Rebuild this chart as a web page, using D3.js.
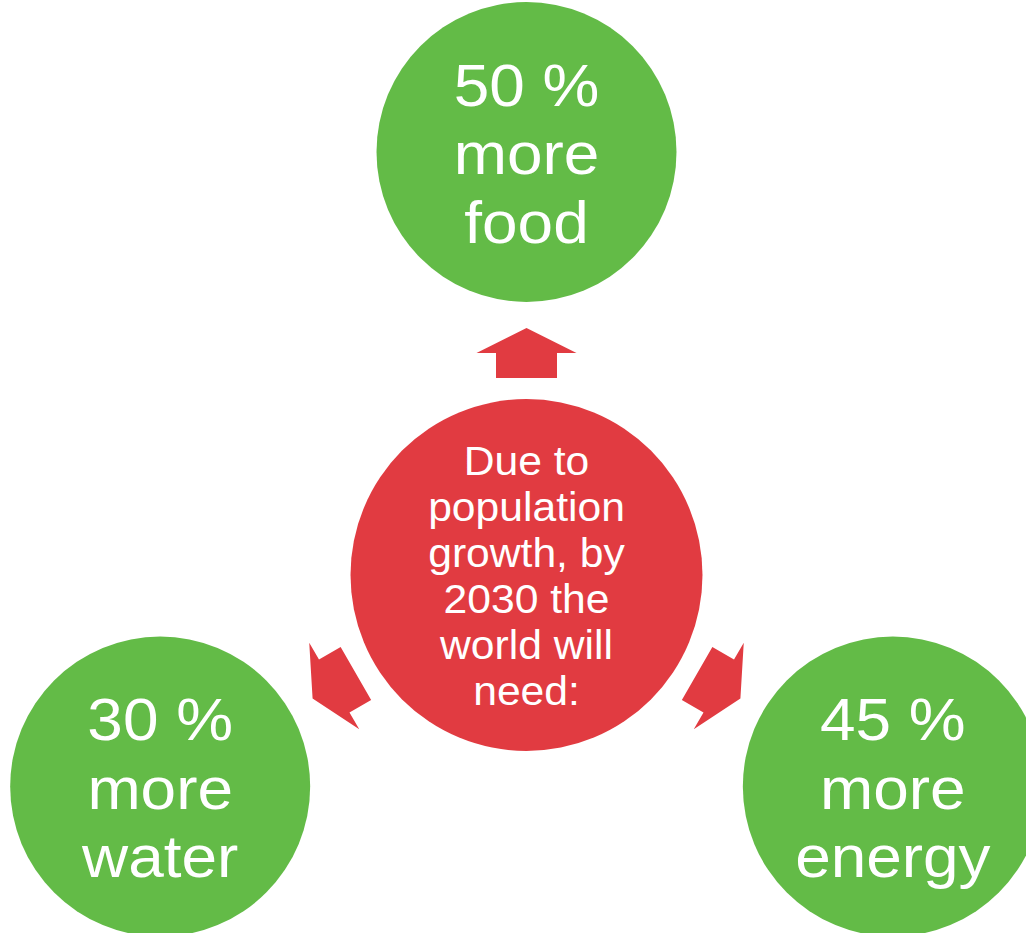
<!DOCTYPE html>
<html>
<head>
<meta charset="utf-8">
<script src="https://cdn.jsdelivr.net/npm/d3@7/dist/d3.min.js"></script>
<style>
  html, body { margin: 0; padding: 0; background: #ffffff; overflow: hidden; }
  svg { display: block; }
</style>
</head>
<body>
<svg id="chart" width="1026" height="933"></svg>
<script>
// ---- data ----
const centerLines = ["Due to", "population", "growth, by", "2030 the", "world will", "need:"];
const outerLabels = [
  ["50 %", "more", "food"],
  ["45 %", "more", "energy"],
  ["30 %", "more", "water"]
];
const outerAngles = [-90, 30, 150]; // degrees, direction from the centre circle

// ---- layout ----
const cx = 526.5, cy = 575;
const centerR = 176;
const outerR = 150;
const outerDist = 423;
const green = "#63bb47";
const red = "#e13b41";
const fontFam = "'Liberation Sans', Arial, sans-serif";

const svg = d3.select("#chart");

// centre circle
svg.append("circle")
  .attr("cx", cx).attr("cy", cy).attr("r", centerR)
  .attr("fill", red);

const cLine = 46, cFont = 41, cScale = 1.04;
svg.append("g").selectAll("text")
  .data(centerLines)
  .join("text")
  .attr("transform", (d, i) => `translate(${cx},${475 + i * cLine}) scale(${cScale},1)`)
  .attr("text-anchor", "middle")
  .attr("fill", "#ffffff")
  .style("font-family", fontFam)
  .style("font-size", cFont + "px")
  .text(d => d);

// arrows (pointing outward)
const arrowBase = 222;   // distance from centre to head base
const headW = 100, headH = 25, shaftW = 61, shaftL = 25;
const arrowPts = [
  [arrowBase + headH, 0],
  [arrowBase, -headW / 2],
  [arrowBase, -shaftW / 2],
  [arrowBase - shaftL, -shaftW / 2],
  [arrowBase - shaftL, shaftW / 2],
  [arrowBase, shaftW / 2],
  [arrowBase, headW / 2]
];
const lineGen = d3.line();
svg.append("g").selectAll("path")
  .data(outerAngles)
  .join("path")
  .attr("transform", a => `translate(${cx},${cy}) rotate(${a})`)
  .attr("d", lineGen(arrowPts) + "Z")
  .attr("fill", red);

// outer circles
const outer = svg.append("g").selectAll("g")
  .data(outerLabels.map((lab, i) => ({ lab, a: outerAngles[i] * Math.PI / 180 })))
  .join("g")
  .attr("transform", d => `translate(${cx + outerDist * Math.cos(d.a)},${cy + outerDist * Math.sin(d.a)})`);

outer.append("circle")
  .attr("r", outerR)
  .attr("fill", green);

const oLine = 68.5, oFont = 60, oScale = 1.065;
outer.selectAll("text")
  .data(d => d.lab)
  .join("text")
  .attr("transform", (d, i) => `translate(0,${(i - 1) * oLine + 22}) scale(${oScale},1)`)
  .attr("text-anchor", "middle")
  .attr("fill", "#ffffff")
  .style("font-family", fontFam)
  .style("font-size", oFont + "px")
  .text(d => d);
</script>
</body>
</html>
